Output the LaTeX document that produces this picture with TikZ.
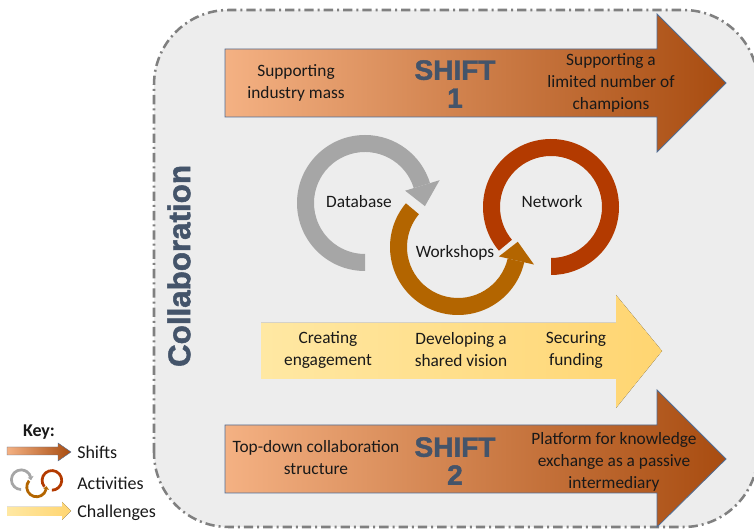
\documentclass[tikz,border=0pt]{standalone}
\usepackage{fontspec}
\setmainfont{Carlito}
\newfontfamily\headfont[FakeBold=1.6]{Liberation Sans Bold}
\usepackage{tikz}
\usetikzlibrary{calc}

\definecolor{boxgray}{HTML}{EDEDED}
\definecolor{dashgray}{HTML}{808080}
\definecolor{slate}{HTML}{44546A}
\definecolor{shiftlight}{HTML}{F4B183}
\definecolor{shiftmid}{HTML}{ED7D31}
\definecolor{shiftdark}{HTML}{A84C10}
\definecolor{shiftline}{HTML}{4F6D96}
\definecolor{challight}{HTML}{FFE8A3}
\definecolor{chaldark}{HTML}{FFD571}
\definecolor{dbgray}{HTML}{A6A6A6}
\definecolor{wsorange}{HTML}{B36500}
\definecolor{netred}{HTML}{B33A00}

\def\ro{68}
\def\ri{51}
\def\drawshift{\draw[shiftline, line width=0.6pt, left color=shiftlight, middle color=shiftmid, right color=shiftdark]}
\def\drawchal{\fill[left color=challight, right color=chaldark]}
\def\labnode{\node[align=center, text=black!90, font=\fontsize{13}{16.5}\selectfont]}
\def\shiftnode{\node[align=center, text=slate, font=\headfont\fontsize{21}{21}\selectfont]}
\def\keynode{\node[anchor=west, text=black!90, font=\fontsize{13.5}{16}\selectfont]}
% ring piece: colour, centre, start angle, end angle
\def\ringpart#1#2#3#4{\fill[#1, shift={(#2)}] (#3:\ro) arc[start angle=#3, end angle=#4, radius=\ro] -- (#4:\ri) arc[start angle=#4, end angle=#3, radius=\ri] -- cycle;}
% ring head: colour, centre, base angle, tip angle
\def\ringhead#1#2#3#4{\fill[#1, shift={(#2)}] (#3:42) -- (#3:78) -- (#4:60) -- cycle;}
\def\activityrings{%
\ringpart{dbgray}{365,329}{270}{17}
\ringhead{dbgray}{365,329}{17}{-3}
\ringpart{netred}{551,325}{220}{-90}
\ringpart{wsorange}{458,285}{140}{347}
\ringhead{wsorange}{458,285}{347}{365}}

\begin{document}
\begin{tikzpicture}[x=0.75pt,y=0.75pt,inner sep=0pt]
\useasboundingbox (0,0) rectangle (754,532);

% -------- collaboration box ---------
\draw[dashgray, fill=boxgray, line width=1.9pt, rounded corners=56pt,
  dash pattern=on 7pt off 3pt on 1.5pt off 3pt] (154,5) rectangle (758,522);
\node[rotate=90, text=slate, font=\headfont\fontsize{23.5}{24}\selectfont] (collab) at (179,266) {Collaboration};

% -------- shift 1 ---------
\coordinate (s1) at (225,449); % middle of the left edge
\drawshift ($(s1)+(0,34)$) -- ++(432,0) -- ++(0,35) -- ($(s1)+(501,0)$)
  -- ($(s1)+(432,-69)$) -- ++(0,35) -- ($(s1)+(0,-34)$) -- cycle;
\labnode (s1from) at (296,449) {Supporting\\industry mass};
\shiftnode (s1name) at (455,448) {SHIFT\\1};
\labnode (s1to) at (611,449) {Supporting a\\limited number of\\champions};

% -------- activities ---------
\activityrings
\labnode (db) at (359,330) {Database};
\labnode (ws) at (455,279) {Workshops};
\labnode (net) at (552,330) {Network};

% -------- challenges ---------
\coordinate (ch) at (261,181);
\drawchal ($(ch)+(0,28)$) -- ++(355,0) -- ++(0,28) -- ($(ch)+(401,0)$)
  -- ($(ch)+(355,-57)$) -- ++(0,29) -- ($(ch)+(0,-28)$) -- cycle;
\labnode (ch1) at (328,182) {Creating\\engagement};
\labnode (ch2) at (461,182) {Developing a\\shared vision};
\labnode (ch3) at (576,182) {Securing\\funding};

% -------- shift 2 ---------
\coordinate (s2) at (225,73);
\drawshift ($(s2)+(0,34)$) -- ++(432,0) -- ++(0,35) -- ($(s2)+(501,0)$)
  -- ($(s2)+(432,-68)$) -- ++(0,34) -- ($(s2)+(0,-34)$) -- cycle;
\labnode (s2from) at (316,74) {Top-down collaboration\\structure};
\shiftnode (s2name) at (455,71) {SHIFT\\2};
\labnode (s2to) at (614,70) {Platform for knowledge\\exchange as a passive\\intermediary};

% -------- key ---------
\node[text=black!90, font=\bfseries\fontsize{13.5}{16}\selectfont] (key) at (39,100) {Key:};
\drawshift[line width=0.3pt] (7,85) -- (58,85) -- (58,89) -- (71,80) -- (58,71) -- (58,77) -- (7,77) -- cycle;
\keynode (kshift) at (77,80) {Shifts};
\begin{scope}[shift={(-39,-2)}, scale=0.165]
\activityrings
\end{scope}
\keynode (kact) at (77,49) {Activities};
\drawchal (7,25) -- (62,25) -- (62,30) -- (71,21) -- (62,12) -- (62,16) -- (7,16) -- cycle;
\keynode (kchal) at (77,19) {Challenges};
\end{tikzpicture}
\end{document}
